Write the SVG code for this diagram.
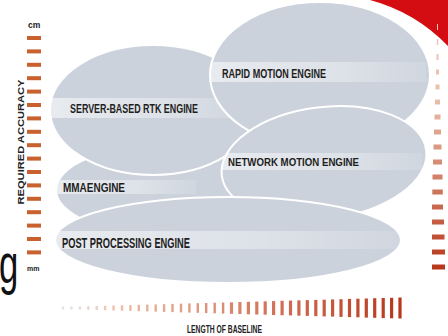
<svg xmlns="http://www.w3.org/2000/svg" width="448" height="336" viewBox="0 0 448 336">
<style>
.ell{fill:#cbd2dc;stroke:#ffffff;stroke-width:2}
.band{fill:url(#bandg)}
.lbl{font-family:"Liberation Sans",Arial,sans-serif;font-weight:bold;fill:#1e1e22}
.ax{font-family:"Liberation Sans",Arial,sans-serif;font-weight:bold;fill:#222}
.ld{fill:#c9612f}
.bd{fill:url(#botg)}
.rd{fill:url(#rightg)}
</style>
<defs>
<linearGradient id="bandg" x1="0" y1="0" x2="1" y2="0">
<stop offset="0" stop-color="#ffffff" stop-opacity="0.55"/>
<stop offset="0.6" stop-color="#ffffff" stop-opacity="0.35"/>
<stop offset="1" stop-color="#ffffff" stop-opacity="0.1"/>
</linearGradient>
<linearGradient id="botg" gradientUnits="userSpaceOnUse" x1="63" y1="0" x2="401" y2="0">
<stop offset="0" stop-color="#e4e4e8"/>
<stop offset="0.1" stop-color="#e6d0c6"/>
<stop offset="0.15" stop-color="#efc0a8"/>
<stop offset="1" stop-color="#b8361a"/>
</linearGradient>
<linearGradient id="rightg" gradientUnits="userSpaceOnUse" x1="0" y1="24" x2="0" y2="270">
<stop offset="0" stop-color="#f2c8c0"/>
<stop offset="0.3" stop-color="#e8c0aa"/>
<stop offset="1" stop-color="#b8361a"/>
</linearGradient>
<clipPath id="cServer"><ellipse cx="153" cy="110" rx="103" ry="65"/></clipPath>
<clipPath id="cRapid"><ellipse cx="320" cy="75" rx="110" ry="73"/></clipPath>
<clipPath id="cNet"><ellipse cx="324" cy="163" rx="103" ry="56" transform="rotate(-7 324 163)"/></clipPath>
<clipPath id="cMma"><ellipse cx="165" cy="190" rx="109" ry="45"/></clipPath>
<clipPath id="cPost"><ellipse cx="228" cy="240" rx="173" ry="43"/></clipPath>
</defs>
<rect width="448" height="336" fill="#ffffff"/>
<path d="M370,0 Q415,12 448,46 L448,0 Z" fill="#d40d12"/>

<g id="mma-engine">
<ellipse class="ell" cx="165" cy="190" rx="109" ry="45"/>
<rect class="band" x="56" y="180" width="140" height="14" clip-path="url(#cMma)"/>
<text class="lbl" x="63" y="192" font-size="13" textLength="62" lengthAdjust="spacingAndGlyphs">MMAENGINE</text>
</g>
<g id="server-based-rtk-engine">
<ellipse class="ell" cx="153" cy="110" rx="103" ry="65"/>
<rect class="band" x="50" y="98" width="190" height="20" clip-path="url(#cServer)"/>
<text class="lbl" x="70" y="113" font-size="12.5" textLength="128" lengthAdjust="spacingAndGlyphs">SERVER-BASED RTK ENGINE</text>
</g>
<g id="rapid-motion-engine">
<ellipse class="ell" cx="320" cy="75" rx="110" ry="73"/>
<rect class="band" x="211" y="62" width="215" height="20" clip-path="url(#cRapid)"/>
<text class="lbl" x="222" y="78" font-size="13.5" textLength="104" lengthAdjust="spacingAndGlyphs">RAPID MOTION ENGINE</text>
</g>
<g id="network-motion-engine">
<ellipse class="ell" cx="324" cy="163" rx="103" ry="56" transform="rotate(-7 324 163)"/>
<rect class="band" x="222" y="153" width="200" height="17" clip-path="url(#cNet)"/>
<text class="lbl" x="228" y="166" font-size="11" textLength="131" lengthAdjust="spacingAndGlyphs">NETWORK MOTION ENGINE</text>
</g>
<g id="post-processing-engine">
<ellipse class="ell" cx="228" cy="240" rx="173" ry="43"/>
<rect class="band" x="55" y="231" width="345" height="18" clip-path="url(#cPost)"/>
<text class="lbl" x="62" y="248" font-size="14.5" textLength="128" lengthAdjust="spacingAndGlyphs">POST PROCESSING ENGINE</text>
</g>

<g id="left-axis">
<text class="ax" x="28" y="28" font-size="8.5" font-weight="bold">cm</text>
<text class="ax" x="27" y="271" font-size="7" font-weight="normal">mm</text>
<text class="ax" transform="translate(24,142) rotate(-90)" text-anchor="middle" font-size="9.5" textLength="125" lengthAdjust="spacingAndGlyphs">REQUIRED ACCURACY</text>
<rect class="ld" x="27" y="36" width="14" height="4"/>
<rect class="ld" x="27" y="49.4" width="14" height="4"/>
<rect class="ld" x="27" y="62.8" width="14" height="4"/>
<rect class="ld" x="27" y="76.2" width="14" height="4"/>
<rect class="ld" x="27" y="89.6" width="14" height="4"/>
<rect class="ld" x="27" y="103" width="14" height="4"/>
<rect class="ld" x="27" y="116.4" width="14" height="4"/>
<rect class="ld" x="27" y="129.8" width="14" height="4"/>
<rect class="ld" x="27" y="143.2" width="14" height="4"/>
<rect class="ld" x="27" y="156.6" width="14" height="4"/>
<rect class="ld" x="27" y="170" width="14" height="4"/>
<rect class="ld" x="27" y="183.4" width="14" height="4"/>
<rect class="ld" x="27" y="196.8" width="14" height="4"/>
<rect class="ld" x="27" y="210.2" width="14" height="4"/>
<rect class="ld" x="27" y="223.6" width="14" height="4"/>
<rect class="ld" x="27" y="237" width="14" height="4"/>
<rect class="ld" x="27" y="250.4" width="14" height="4"/>
</g>

<text transform="translate(-1,283) scale(0.62,1)" font-family="'Liberation Sans',Arial,sans-serif" font-size="56" fill="#111">g</text>

<g id="right-axis">
<rect class="rd" x="437" y="24" width="1" height="6"/>
<rect class="rd" x="436.8" y="39" width="1.5" height="6"/>
<rect class="rd" x="436.5" y="54" width="2" height="6"/>
<rect class="rd" x="436" y="69.5" width="3" height="5"/>
<rect class="rd" x="435.5" y="84.5" width="4" height="5"/>
<rect class="rd" x="435" y="99.5" width="5" height="5"/>
<rect class="rd" x="434.5" y="114.5" width="6" height="5"/>
<rect class="rd" x="434" y="129.5" width="7" height="5"/>
<rect class="rd" x="433.5" y="144.5" width="8" height="5"/>
<rect class="rd" x="433" y="159.5" width="9" height="5"/>
<rect class="rd" x="432.5" y="174.5" width="10" height="5"/>
<rect class="rd" x="432.3" y="189.5" width="10.5" height="5"/>
<rect class="rd" x="432" y="204.5" width="11" height="5"/>
<rect class="rd" x="432" y="219.5" width="12" height="5"/>
<rect class="rd" x="432" y="234.5" width="12.5" height="5"/>
<rect class="rd" x="432" y="249.5" width="13" height="5"/>
<rect class="rd" x="432" y="264.5" width="13" height="5"/>
</g>

<g id="bottom-axis">
<rect class="bd" x="61.8" y="306.5" width="2.4" height="3"/>
<rect class="bd" x="70.2" y="306.5" width="2.4" height="3"/>
<rect class="bd" x="78.7" y="306.5" width="2.4" height="3"/>
<rect class="bd" x="87.1" y="306.3" width="2.4" height="3.5"/>
<rect class="bd" x="95.5" y="306.1" width="2.4" height="3.9"/>
<rect class="bd" x="103.9" y="305.8" width="2.4" height="4.4"/>
<rect class="bd" x="112.4" y="305.6" width="2.4" height="4.9"/>
<rect class="bd" x="120.8" y="305.3" width="2.4" height="5.4"/>
<rect class="bd" x="129.2" y="305.1" width="2.4" height="5.8"/>
<rect class="bd" x="137.6" y="304.9" width="2.4" height="6.3"/>
<rect class="bd" x="146.1" y="304.6" width="2.4" height="6.8"/>
<rect class="bd" x="154.5" y="304.4" width="2.4" height="7.3"/>
<rect class="bd" x="162.9" y="304.2" width="2.4" height="7.7"/>
<rect class="bd" x="171.3" y="303.9" width="2.4" height="8.2"/>
<rect class="bd" x="179.8" y="303.7" width="2.4" height="8.7"/>
<rect class="bd" x="188.2" y="303.4" width="2.4" height="9.2"/>
<rect class="bd" x="196.6" y="303.2" width="2.4" height="9.6"/>
<rect class="bd" x="205" y="303" width="2.4" height="10.1"/>
<rect class="bd" x="213.5" y="302.7" width="2.4" height="10.6"/>
<rect class="bd" x="221.9" y="302.5" width="2.4" height="11.1"/>
<rect class="bd" x="229.9" y="302.3" width="3.2" height="11.5"/>
<rect class="bd" x="238.3" y="302" width="3.2" height="12"/>
<rect class="bd" x="246.8" y="301.8" width="3.2" height="12.5"/>
<rect class="bd" x="255.2" y="301.6" width="3.2" height="12.9"/>
<rect class="bd" x="263.6" y="301.3" width="3.2" height="13.4"/>
<rect class="bd" x="272" y="301.1" width="3.2" height="13.9"/>
<rect class="bd" x="280.5" y="300.8" width="3.2" height="14.4"/>
<rect class="bd" x="288.9" y="300.6" width="3.2" height="14.8"/>
<rect class="bd" x="297.3" y="300.4" width="3.2" height="15.3"/>
<rect class="bd" x="305.7" y="300.1" width="3.2" height="15.8"/>
<rect class="bd" x="314.2" y="299.9" width="3.2" height="16.3"/>
<rect class="bd" x="322.6" y="299.7" width="3.2" height="16.7"/>
<rect class="bd" x="331" y="299.4" width="3.2" height="17.2"/>
<rect class="bd" x="339.4" y="299.2" width="3.2" height="17.7"/>
<rect class="bd" x="347.9" y="298.9" width="3.2" height="18.2"/>
<rect class="bd" x="356.3" y="298.7" width="3.2" height="18.6"/>
<rect class="bd" x="364.7" y="298.5" width="3.2" height="19.1"/>
<rect class="bd" x="373.1" y="298.2" width="3.2" height="19.6"/>
<rect class="bd" x="381.6" y="298" width="3.2" height="20.1"/>
<rect class="bd" x="390" y="297.8" width="3.2" height="20.5"/>
<rect class="bd" x="398.4" y="297.5" width="3.2" height="21"/>
<text class="ax" x="187" y="333" font-size="10.5" textLength="75" lengthAdjust="spacingAndGlyphs">LENGTH OF BASELINE</text>
</g>
</svg>
